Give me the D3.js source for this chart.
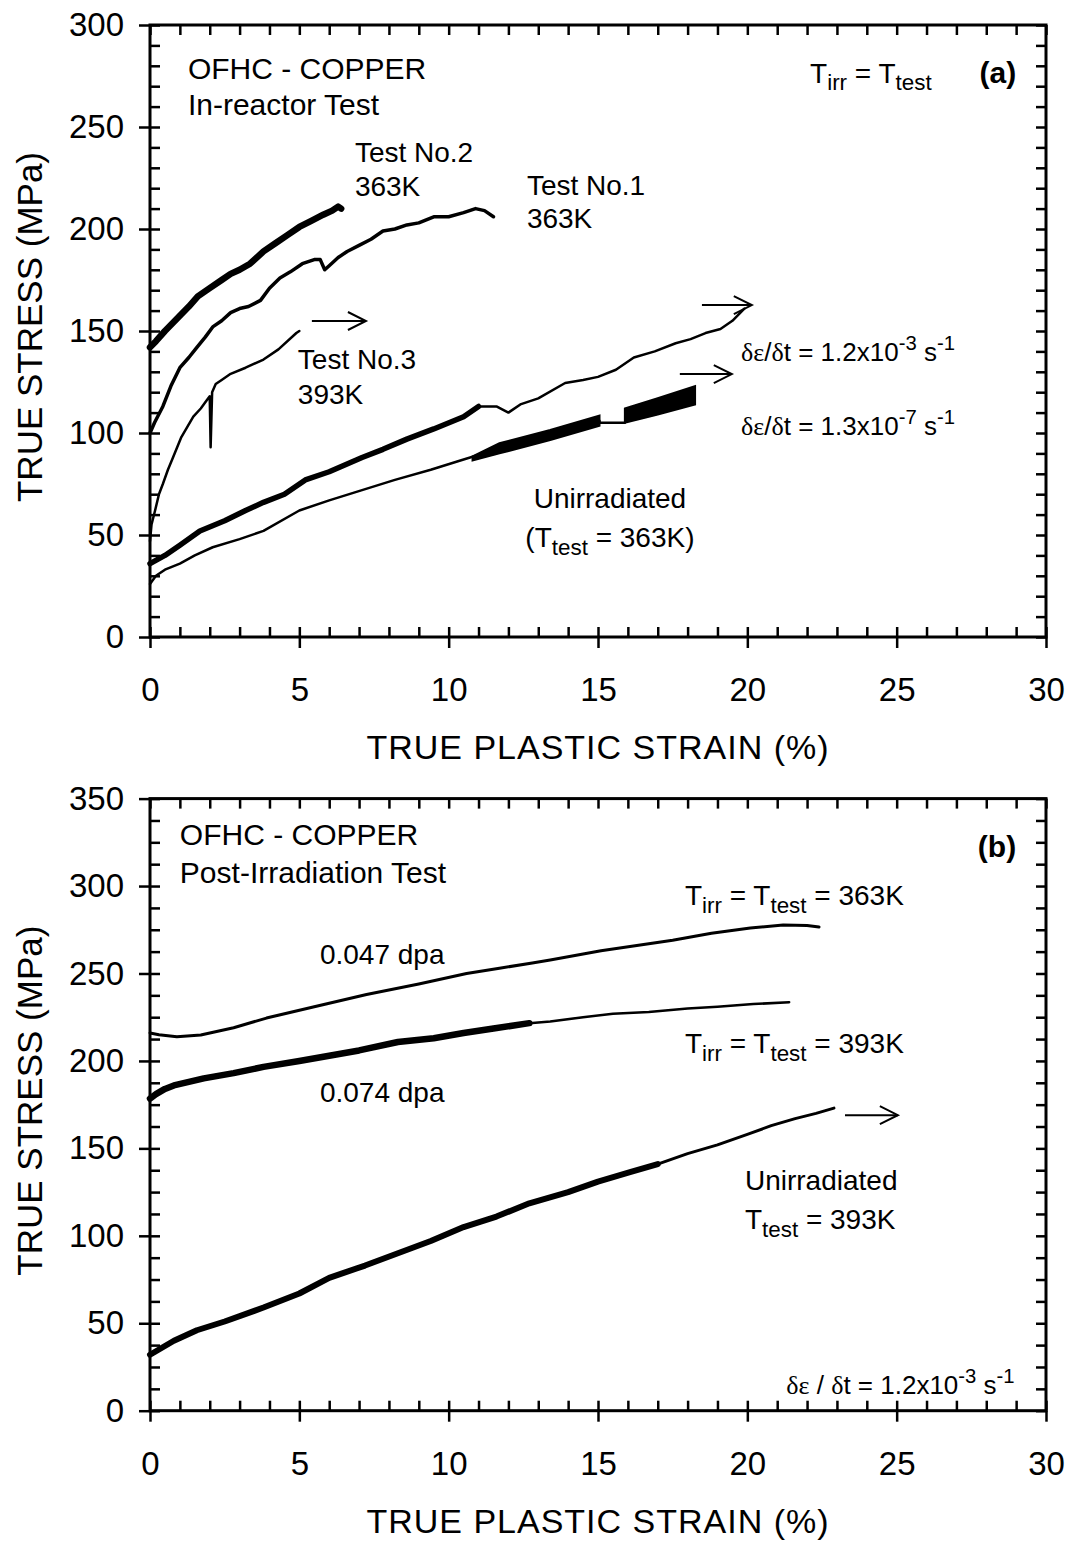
<!DOCTYPE html>
<meta charset="utf-8">
<style>
body { margin:0; background:white; }
svg text { fill:black; font-family:"Liberation Sans", Arial, sans-serif; }
</style>
<script src="https://d3js.org/d3.v7.min.js"></script>
<div id="chart"></div>
<script>

// ---------- panel (a): in-reactor tests ----------
var test2Strain = [0, 0.2, 0.5, 0.9, 1.3, 1.6, 2.0, 2.4, 2.7, 3.0, 3.35, 3.8, 4.2, 4.6, 5.0, 5.4, 5.8, 6.1, 6.3, 6.4];
var test2Stress = [142, 145, 150, 156, 162, 167, 171, 175, 178, 180, 183, 189, 193, 197, 201, 204, 207, 209, 211, 210];

var test1Strain = [0, 0.15, 0.43, 0.7, 1.0, 1.3, 1.57, 1.85, 2.1, 2.4, 2.7, 3.0, 3.3, 3.7, 4.0, 4.35, 4.7, 5.1, 5.5, 5.7, 5.85, 6.0, 6.3, 6.6, 7.0, 7.4, 7.8, 8.2, 8.6, 9.0, 9.5, 10.0, 10.5, 10.9, 11.2, 11.5];
var test1Stress = [100, 105, 113, 123, 132, 137, 142, 147, 152, 155, 159, 161, 162, 165, 171, 176, 179, 183, 185, 185, 180, 182, 186, 189, 192, 195, 199, 200, 202, 203, 206, 206, 208, 210, 209, 206];

var test3Strain = [0, 0.05, 0.17, 0.3, 0.43, 0.6, 0.77, 1.05, 1.45, 1.7, 1.9, 2.0, 2.03, 2.08, 2.2, 2.4, 2.7, 3.2, 3.8, 4.3, 4.9, 5.0];
var test3Stress = [47, 55, 62, 70, 75, 82, 88, 98, 108, 112, 116, 118, 93, 120, 124, 126, 129, 132, 136, 141, 149, 150];

var fastStrain = [0, 0.5, 1.0, 1.67, 2.5, 3.2, 3.8, 4.5, 5.2, 6.0, 7.1, 7.8, 8.6, 9.5, 10.5, 11.0, 11.6, 12.0, 12.4, 13.0, 13.9, 14.5, 15.0, 15.6, 16.2, 16.9, 17.6, 18.1, 18.6, 19.1, 19.5, 19.9];
var fastStress = [36, 40, 45, 52, 57, 62, 66, 70, 77, 81, 88, 92, 97, 102, 108, 113, 113, 110, 114, 117, 124.5, 126, 127.5, 131, 137, 140, 144, 146, 149, 151, 155, 161];

var slowStrain = [0, 0.2, 0.5, 1.0, 1.5, 2.1, 3.0, 3.8, 5.0, 6.0, 7.1, 8.2, 9.4, 10.5, 11.6, 12.7, 13.5, 14.3, 15.05, 15.05, 15.9];
var slowStress = [26, 30, 33, 36, 40, 44, 48, 52, 62, 67, 72, 77, 82, 87, 92, 97, 100, 103, 106, 105, 105];
// cyclic (thick band) parts of the slow-rate curve
var slowBand1Strain = [10.8, 11.7, 13.4, 15.05];
var slowBand1Low    = [86.5, 90, 96.5, 103.5];
var slowBand1High   = [88.5, 95, 101.5, 108.5];
var slowBand2Strain = [15.9, 17.0, 18.25];
var slowBand2Low    = [105, 109, 114];
var slowBand2High   = [112, 117, 123];

// ---------- panel (b): post-irradiation tests ----------
var dpa047Strain = [0, 0.3, 0.9, 1.7, 2.8, 3.9, 5.5, 7.25, 9.0, 10.6, 11.7, 12.8, 13.4, 15.1, 16.3, 17.5, 18.8, 20.1, 21.2, 22.0, 22.4];
var dpa047Stress = [216, 215, 213.8, 214.8, 219, 224.5, 231, 238, 244, 250, 253, 256, 257.7, 263, 266, 269, 273, 276, 277.7, 277.5, 276.6];

var dpa074Strain = [0, 0.2, 0.5, 0.8, 1.3, 1.8, 2.8, 3.8, 5.0, 6.0, 7.0, 8.3, 9.5, 10.5, 11.5, 12.7, 13.4, 14.5, 15.5, 16.7, 18.0, 19.0, 20.2, 21.4];
var dpa074Stress = [178.5, 181, 184, 186, 188, 190, 193, 196.6, 200, 203, 206, 210.8, 213, 216, 218.5, 221.6, 222.5, 225, 227, 228, 230, 231, 232.5, 233.6];

var unirr393Strain = [0, 0.3, 0.8, 1.57, 2.5, 3.8, 5.0, 6.0, 7.2, 8.3, 9.4, 10.5, 11.6, 12.7, 14.0, 15.0, 16.1, 17.0, 18.0, 19.0, 20.0, 20.8, 21.6, 22.3, 22.9];
var unirr393Stress = [32, 35, 40, 46, 51, 59, 67, 76, 83, 90, 97, 105, 111, 118.6, 125, 131, 136.5, 141, 147, 152, 158, 163, 167, 170, 173];

// tick values
var xMajor = d3.range(0, 31, 5), xMinor = d3.range(0, 31, 1);
var yMajorA = d3.range(0, 301, 50), yMinorA = d3.range(0, 301, 10);
var yMajorB = d3.range(0, 351, 50), yMinorB = d3.range(0, 351, 12.5);

var svg = d3.select("#chart").append("svg")
    .attr("width", 1070)
    .attr("height", 1541);

var x = d3.scaleLinear().domain([0, 30]).range([150, 1046]);
var yA = d3.scaleLinear().domain([0, 300]).range([637, 25]);
var yB = d3.scaleLinear().domain([0, 350]).range([1410.7, 798.6]);

// axes box with inward minor ticks and crossing major ticks
function frame(y, majors, minors) {
  var g = svg.append("g");
  var x0 = x.range()[0], x1 = x.range()[1], y0 = y.range()[0], y1 = y.range()[1];

  g.append("g").attr("transform", "translate(0," + y0 + ")")
    .call(d3.axisBottom(x).tickValues(xMinor).tickSize(-10).tickFormat(""));
  g.append("g").attr("transform", "translate(0," + y1 + ")")
    .call(d3.axisTop(x).tickValues(xMinor).tickSize(-10).tickFormat(""));
  g.append("g").attr("transform", "translate(" + x0 + ",0)")
    .call(d3.axisLeft(y).tickValues(minors).tickSize(-10).tickFormat(""));
  g.append("g").attr("transform", "translate(" + x1 + ",0)")
    .call(d3.axisRight(y).tickValues(minors).tickSize(-10).tickFormat(""));

  g.append("g").attr("class", "major").attr("transform", "translate(0," + y0 + ")")
    .call(d3.axisBottom(x).tickValues(xMajor).tickSize(11).tickPadding(30));
  g.append("g").attr("class", "major").attr("transform", "translate(" + x0 + ",0)")
    .call(d3.axisLeft(y).tickValues(majors).tickSize(11).tickPadding(15));

  g.selectAll(".domain").remove();
  g.selectAll("line").attr("stroke", "#000").attr("stroke-width", 2.5);
  g.selectAll(".major text")
    .attr("font-size", 33)
    .attr("font-family", "Liberation Sans")
    .attr("fill", "#000");

  g.append("rect")
    .attr("x", x0).attr("y", y1)
    .attr("width", x1 - x0).attr("height", y0 - y1)
    .attr("fill", "none").attr("stroke", "#000").attr("stroke-width", 3);

  // axis titles
  svg.append("text")
    .attr("x", (x0 + x1) / 2).attr("y", y0 + 122)
    .attr("text-anchor", "middle").attr("font-size", 34).attr("letter-spacing", 1)
    .text("TRUE PLASTIC STRAIN (%)");
  svg.append("text")
    .attr("transform", "translate(42," + ((y0 + y1) / 2 - 4) + ") rotate(-90)")
    .attr("text-anchor", "middle").attr("font-size", 35)
    .text("TRUE STRESS (MPa)");
}

// a curve: heavy stroke up to heavyTo, thin after
function curve(y, xs, vs, heavyW, thinW, heavyTo) {
  var pts = d3.zip(xs, vs);
  var line = d3.line().x(function(d) { return x(d[0]); }).y(function(d) { return y(d[1]); });
  var heavy = pts.filter(function(d) { return d[0] <= heavyTo; });
  var k = heavy.length - 1;
  var thin = pts.slice(Math.max(k, 0));
  svg.append("path").attr("d", line(heavy))
    .attr("fill", "none").attr("stroke", "#000").attr("stroke-width", heavyW)
    .attr("stroke-linejoin", "round").attr("stroke-linecap", "round");
  if (thin.length > 1) {
    svg.append("path").attr("d", line(thin))
      .attr("fill", "none").attr("stroke", "#000").attr("stroke-width", thinW)
      .attr("stroke-linejoin", "round").attr("stroke-linecap", "round");
  }
}

function band(y, xs, lo, hi) {
  var area = d3.area()
    .x(function(d) { return x(d[0]); })
    .y0(function(d) { return y(d[1]); })
    .y1(function(d) { return y(d[2]); });
  svg.append("path").attr("d", area(d3.zip(xs, lo, hi)))
    .attr("fill", "#000").attr("stroke", "#000").attr("stroke-width", 2);
}

function arrow(y, s0, s1, v) {
  var g = svg.append("g").attr("stroke", "#000").attr("stroke-width", 2).attr("fill", "none");
  var xa = x(s0), xb = x(s1), yy = y(v);
  g.append("line").attr("x1", xa).attr("x2", xb).attr("y1", yy).attr("y2", yy);
  g.append("path").attr("d", "M" + (xb - 18) + "," + (yy - 9) + "L" + xb + "," + yy + "L" + (xb - 18) + "," + (yy + 9));
}

// text with sub/superscripts; parts: strings or {t, sub|sup|serif}
function label(y, s, v, parts, size, anchor, weight) {
  var t = svg.append("text").attr("x", x(s)).attr("y", y(v))
    .attr("font-size", size).attr("text-anchor", anchor || "start");
  if (weight) t.attr("font-weight", weight);
  var off = 0;
  parts.forEach(function(p) {
    var q = typeof p === "string" ? {t: p} : p;
    var want = q.sub ? size * 0.27 : q.sup ? -size * 0.42 : 0;
    var ts = t.append("tspan").attr("dy", want - off).text(q.t);
    off = want;
    if (q.sub) ts.attr("font-size", size * 0.8);
    if (q.sup) ts.attr("font-size", size * 0.78);
    if (q.serif) ts.attr("font-family", "Liberation Serif");
  });
}

// ---------- draw panel (a) ----------
frame(yA, yMajorA, yMinorA);
curve(yA, slowStrain, slowStress, 2.5, 2.5, 99);
band(yA, slowBand1Strain, slowBand1Low, slowBand1High);
band(yA, slowBand2Strain, slowBand2Low, slowBand2High);
curve(yA, fastStrain, fastStress, 5.5, 2.5, 11.0);
curve(yA, test3Strain, test3Stress, 2.5, 2.5, 99);
curve(yA, test1Strain, test1Stress, 3.5, 3.5, 99);
curve(yA, test2Strain, test2Stress, 6.5, 6.5, 99);

arrow(yA, 5.42, 7.23, 154.9);
arrow(yA, 18.48, 20.15, 162.7);
arrow(yA, 17.74, 19.48, 128.9);

label(yA, 1.27, 273.5, ["OFHC - COPPER"], 30);
label(yA, 1.27, 255.9, ["In-reactor Test"], 30);
label(yA, 6.86, 232.8, ["Test No.2"], 28);
label(yA, 6.86, 216.2, ["363K"], 28);
label(yA, 12.62, 216.7, ["Test No.1"], 28);
label(yA, 12.62, 200.5, ["363K"], 28);
label(yA, 4.95, 131.4, ["Test No.3"], 28);
label(yA, 4.95, 114.2, ["393K"], 28);
label(yA, 22.1, 271.6, ["T", {t: "irr", sub: 1}, " = T", {t: "test", sub: 1}], 28);
label(yA, 29.0, 271.6, ["(a)"], 30, "end", "bold");
label(yA, 19.79, 135.3, [{t: "\u03b4\u03b5", serif: 1}, "/", {t: "\u03b4", serif: 1}, "t = 1.2x10", {t: "-3", sup: 1}, " s", {t: "-1", sup: 1}], 26);
label(yA, 19.79, 99.0, [{t: "\u03b4\u03b5", serif: 1}, "/", {t: "\u03b4", serif: 1}, "t = 1.3x10", {t: "-7", sup: 1}, " s", {t: "-1", sup: 1}], 26);
label(yA, 15.4, 63.2, ["Unirradiated"], 28, "middle");
label(yA, 15.4, 44.1, ["(T", {t: "test", sub: 1}, " = 363K)"], 28, "middle");

// ---------- draw panel (b) ----------
frame(yB, yMajorB, yMinorB);
curve(yB, unirr393Strain, unirr393Stress, 6, 3, 17.0);
curve(yB, dpa074Strain, dpa074Stress, 6.5, 2.5, 12.7);
curve(yB, dpa047Strain, dpa047Stress, 3, 3, 99);

arrow(yB, 23.27, 25.04, 169);

label(yB, 1.0, 323.4, ["OFHC - COPPER"], 30);
label(yB, 1.0, 301.7, ["Post-Irradiation Test"], 30);
label(yB, 5.69, 255.4, ["0.047 dpa"], 28);
label(yB, 5.69, 176.5, ["0.074 dpa"], 28);
label(yB, 29.0, 316.6, ["(b)"], 30, "end", "bold");
label(yB, 17.91, 289.1, ["T", {t: "irr", sub: 1}, " = T", {t: "test", sub: 1}, " = 363K"], 28);
label(yB, 17.91, 204.5, ["T", {t: "irr", sub: 1}, " = T", {t: "test", sub: 1}, " = 393K"], 28);
label(yB, 19.92, 126.2, ["Unirradiated"], 28);
label(yB, 19.92, 103.8, ["T", {t: "test", sub: 1}, " = 393K"], 28);
label(yB, 28.95, 9.5, [{t: "\u03b4\u03b5", serif: 1}, " / ", {t: "\u03b4", serif: 1}, "t = 1.2x10", {t: "-3", sup: 1}, " s", {t: "-1", sup: 1}], 26, "end");

</script>
